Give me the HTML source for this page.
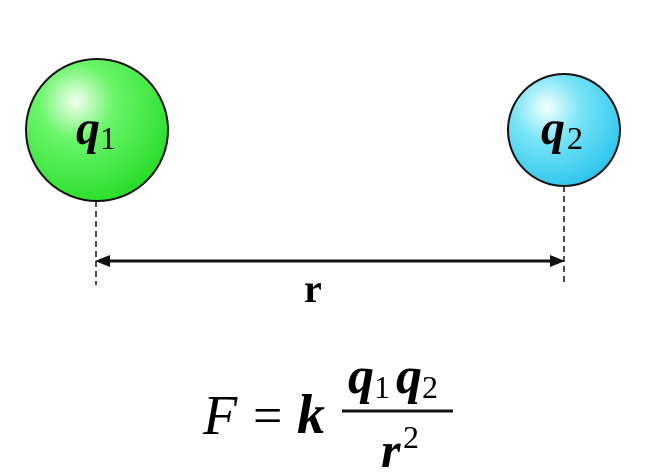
<!DOCTYPE html>
<html><head><style>body{margin:0;background:#fff}</style></head><body>
<svg width="645" height="470" xmlns="http://www.w3.org/2000/svg" font-family="Liberation Serif, serif">
<defs>
<radialGradient id="g" cx="0.35" cy="0.3" r="0.75"><stop offset="0" stop-color="#f4fff0"/><stop offset="0.35" stop-color="#6af56a"/><stop offset="1" stop-color="#28dc28"/></radialGradient>
<radialGradient id="b" cx="0.35" cy="0.3" r="0.75"><stop offset="0" stop-color="#f4ffff"/><stop offset="0.4" stop-color="#78e4f6"/><stop offset="1" stop-color="#2cc4ec"/></radialGradient>
</defs>
<circle cx="97" cy="130" r="71" fill="url(#g)" stroke="#111" stroke-width="2"/>
<circle cx="564" cy="130" r="56" fill="url(#b)" stroke="#111" stroke-width="2"/>
<text x="76" y="144" font-size="48" font-weight="bold" font-style="italic">q</text>
<text x="100" y="149" font-size="32">1</text>
<text x="541" y="144" font-size="48" font-weight="bold" font-style="italic">q</text>
<text x="567" y="149" font-size="32">2</text>
<g stroke="#111" stroke-width="1.5" stroke-dasharray="6,4">
<line x1="96" y1="201" x2="96" y2="285"/><line x1="564" y1="186" x2="564" y2="285"/></g>
<line x1="104" y1="261" x2="556" y2="261" stroke="#111" stroke-width="3"/>
<polygon points="95,261 110,255 110,267" fill="#111"/>
<polygon points="565,261 550,255 550,267" fill="#111"/>
<text x="304" y="302" font-size="40" font-weight="bold">r</text>
<text x="203" y="434" font-size="56" font-style="italic">F</text>
<text x="253" y="433" font-size="52">=</text>
<text x="297" y="433" font-size="56" font-weight="bold" font-style="italic">k</text>
<line x1="342" y1="411" x2="453" y2="411" stroke="#111" stroke-width="3"/>
<text x="348" y="393" font-size="52" font-weight="bold" font-style="italic">q</text>
<text x="374" y="398" font-size="32">1</text>
<text x="396" y="393" font-size="52" font-weight="bold" font-style="italic">q</text>
<text x="422" y="398" font-size="32">2</text>
<text x="381" y="467" font-size="50" font-weight="bold" font-style="italic">r</text>
<text x="403" y="448" font-size="32">2</text>
</svg>
</body></html>
